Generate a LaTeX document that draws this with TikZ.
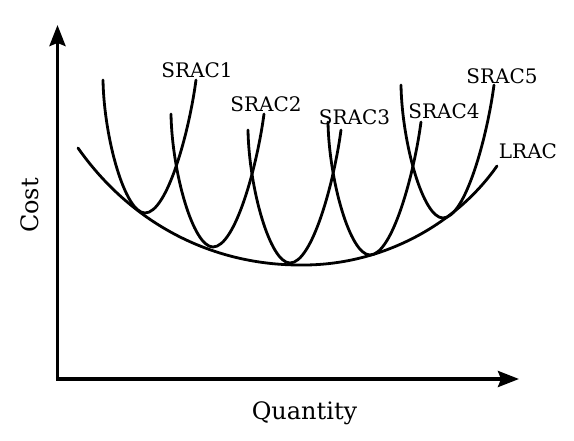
\documentclass[tikz,border=0pt]{standalone}
\usepackage{fontspec}
\setmainfont{DejaVu Serif}
\usetikzlibrary{arrows.meta}
\begin{document}
\begin{tikzpicture}[x=1pt,y=-1pt,
  axis/.style={line width=3.4pt,-{Stealth[length=21pt,width=16pt,inset=3pt]}},
  curve/.style={line width=2.8pt,line cap=round},
  lbl/.style={inner sep=0pt,font=\fontsize{20}{24}\selectfont},
  axlbl/.style={inner sep=0pt,font=\fontsize{24}{28}\selectfont}]
\useasboundingbox (0,0) rectangle (574,441);
% axes
\coordinate (O) at (57.5,379);
\coordinate (ytop) at (57.5,25);
\coordinate (xend) at (519,379);
\draw[axis] ([yshift=1.7pt]O) -- (ytop);
\draw[axis] ([xshift=-1.7pt]O) -- (xend);
% LRAC
\draw[curve] (78,148) .. controls (130,222) and (210,265) .. (300,265)
  .. controls (380,266) and (455,226) .. (497,166);
% SRAC curves (same shape, shifted to each minimum)
\foreach \mx/\my in {145/213, 213/247, 290/263, 370/255, 443/218}{
  \draw[curve,shift={(\mx,\my)}] (-42,-133) .. controls (-41,-75) and (-20,0) .. (0,0)
    .. controls (22,0) and (44,-80) .. (51,-133);
}
% labels
\node[lbl] (s1) at (197,70) {SRAC1};
\node[lbl] (s2) at (266,104) {SRAC2};
\node[lbl] (s3) at (354.5,117) {SRAC3};
\node[lbl] (s4) at (444,111.5) {SRAC4};
\node[lbl] (s5) at (502,76.7) {SRAC5};
\node[lbl] (lr) at (528,151.5) {LRAC};
\node[axlbl,anchor=base] (q) at (304.5,419) {Quantity};
\node[axlbl,rotate=90,anchor=base] (c) at (38,205.5) {Cost};
\end{tikzpicture}
\end{document}
